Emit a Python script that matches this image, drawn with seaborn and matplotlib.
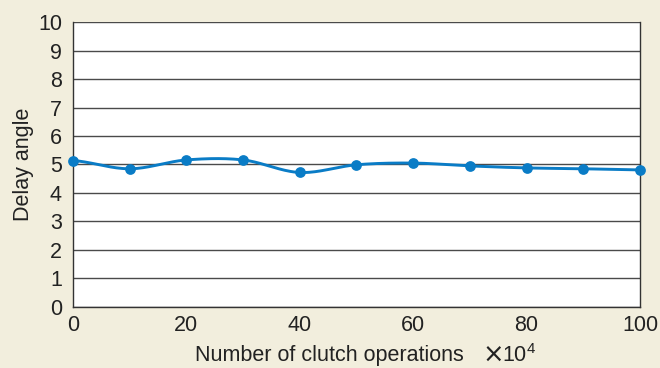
import numpy as np
import pandas as pd
import matplotlib
matplotlib.use("Agg")
import matplotlib.pyplot as plt
import seaborn as sns

# Delay angle measured every 10 x 10^4 clutch operations
operations = [0, 10, 20, 30, 40, 50, 60, 70, 80, 90, 100]
delay_angle = [5.14, 4.85, 5.16, 5.16, 4.72, 4.99, 5.05, 4.95, 4.88, 4.85, 4.81]
x_ticks = [0, 20, 40, 60, 80, 100]
y_ticks = list(range(0, 11))

BG = "#f2eedd"
BLUE = "#0a7cc6"
GRID = "#4a4a4a"
TEXT = "#222222"
FS = 15.5

sns.set_theme(style="white")
plt.rcParams["font.family"] = ["Liberation Sans", "DejaVu Sans"]
plt.rcParams["mathtext.fontset"] = "custom"
plt.rcParams["mathtext.rm"] = "Liberation Sans"


def catmull_rom(xs, ys, n=30):
    """Smooth curve through the points (uniform Catmull-Rom spline)."""
    xs = np.asarray(xs, float)
    ys = np.asarray(ys, float)
    px = np.concatenate([[2 * xs[0] - xs[1]], xs, [2 * xs[-1] - xs[-2]]])
    py = np.concatenate([[ys[0]], ys, [ys[-1]]])
    out_x, out_y = [], []
    for i in range(1, len(px) - 2):
        t = np.linspace(0, 1, n, endpoint=(i == len(px) - 3))
        t2, t3 = t * t, t * t * t
        for p, out in ((px, out_x), (py, out_y)):
            p0, p1, p2, p3 = p[i - 1], p[i], p[i + 1], p[i + 2]
            out.extend(0.5 * ((2 * p1) + (-p0 + p2) * t
                              + (2 * p0 - 5 * p1 + 4 * p2 - p3) * t2
                              + (-p0 + 3 * p1 - 3 * p2 + p3) * t3))
    return np.array(out_x), np.array(out_y)


points = pd.DataFrame({"operations": operations, "delay": delay_angle})
sx, sy = catmull_rom(operations, delay_angle)
curve = pd.DataFrame({"operations": sx, "delay": sy})

fig = plt.figure(figsize=(6.6, 3.68), dpi=100, facecolor=BG)
ax = fig.add_axes([0.1106, 0.1658, 0.8591, 0.7744])
ax.set_facecolor("white")

for yv in y_ticks:
    ax.axhline(yv, color=GRID, lw=1.0, zorder=1)

sns.lineplot(data=curve, x="operations", y="delay", sort=False, estimator=None,
             color=BLUE, lw=2.1, ax=ax, zorder=3)
sns.scatterplot(data=points, x="operations", y="delay", color=BLUE, s=60,
                edgecolor=BLUE, linewidth=0, ax=ax, zorder=4, clip_on=False)

ax.set_xlim(0, 100)
ax.set_ylim(0, 10)
ax.set_xticks(x_ticks)
ax.set_yticks(y_ticks)
ax.tick_params(axis="x", direction="in", length=4, width=0.8, color="#333333",
               pad=6, labelsize=FS, labelcolor=TEXT)
ax.tick_params(axis="y", length=0, pad=8, labelsize=FS, labelcolor=TEXT)

for side in ("left", "right", "bottom"):
    ax.spines[side].set_visible(True)
    ax.spines[side].set_color("#333333")
    ax.spines[side].set_linewidth(1.0)
ax.spines["top"].set_visible(False)

ax.set_xlabel("")
ax.set_ylabel("")
fig.text(23 / 660, 0.5 + (368 / 2 - 164.5) / 368, "Delay angle", rotation=90,
         ha="center", va="center", fontsize=FS, color=TEXT)

# x-axis title with its scale factor
base_y = 6.5 / 368
fig.text(195 / 660, base_y, "Number of clutch operations",
         ha="left", va="baseline", fontsize=FS, color=TEXT)
fig.text(482 / 660, base_y, "$\\times$", ha="left", va="baseline",
         fontsize=FS + 3, color=TEXT, math_fontfamily="dejavusans")
fig.text(502 / 660, base_y, "10$\\mathregular{^4}$", ha="left", va="baseline",
         fontsize=FS, color=TEXT)

fig.savefig("out.png", dpi=100, facecolor=BG)
